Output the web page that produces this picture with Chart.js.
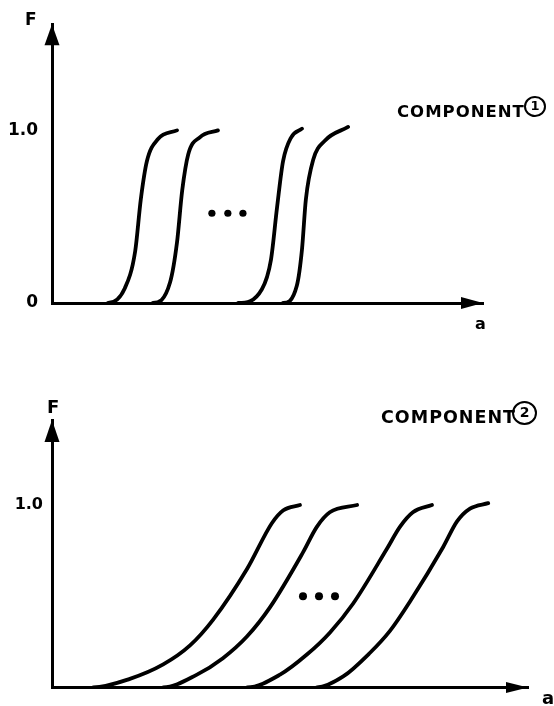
<!DOCTYPE html>
<html lang="en">
<head>
<meta charset="UTF-8">
<title>Component distributions F(a)</title>
<script src="https://cdn.jsdelivr.net/npm/chart.js"></script>
<style>
  * { box-sizing: border-box; }
  body { margin: 0; background: #fff; width: 554px; height: 706px; position: relative; overflow: hidden;
         font-family: 'DejaVu Sans', sans-serif; font-weight: bold; color: #000; }
  canvas { position: absolute; left: 0; }
  #chart1 { top: 0; }
  #chart2 { top: 360px; }
  .lbl { position: absolute; line-height: 1; white-space: nowrap; }
  .comp { letter-spacing: 1px; }
  .circ { position: absolute; border: 2.5px solid #000; border-radius: 50%; text-align: center; }
</style>
</head>
<body>
  <canvas id="chart1" width="554" height="340"></canvas>
  <canvas id="chart2" width="554" height="346"></canvas>

  <div class="lbl" style="left:25px;top:11px;font-size:17px">F</div>
  <div class="lbl" style="left:475px;top:316px;font-size:16px">a</div>
  <div class="lbl comp" style="left:397px;top:104px;font-size:16.5px">COMPONENT</div>
  <div class="circ" style="left:524px;top:96px;width:22px;height:21px;font-size:13px;line-height:16px">1</div>

  <div class="lbl" style="left:47px;top:398px;font-size:18px">F</div>
  <div class="lbl" style="left:542px;top:689px;font-size:18px">a</div>
  <div class="lbl comp" style="left:381px;top:409px;font-size:17.5px">COMPONENT</div>
  <div class="circ" style="left:512px;top:401px;width:25px;height:24px;font-size:14px;line-height:19px">2</div>

<script>
// component 1 (steep curves), a in axis units, F from 0 to 1
// the first point of each curve is a resting point on the axis (F = 0 before the rise)
const c1Curve1A = [0.90, 1.30, 1.69, 1.93, 2.06, 2.20, 2.46, 2.90];
const c1Curve1F = [0, 0, 0.086, 0.30, 0.60, 0.82, 0.95, 1.0];
const c1Curve2A = [1.94, 2.34, 2.74, 2.90, 3.02, 3.16, 3.43, 3.85];
const c1Curve2F = [0, 0, 0.12, 0.35, 0.65, 0.86, 0.96, 1.0];
const c1Curve3A = [3.92, 4.32, 4.87, 5.08, 5.22, 5.36, 5.55, 5.80];
const c1Curve3F = [0, 0, 0.08, 0.25, 0.55, 0.82, 0.96, 1.01];
const c1Curve4A = [4.96, 5.36, 5.68, 5.80, 5.89, 6.06, 6.33, 6.87];
const c1Curve4F = [0, 0, 0.10, 0.31, 0.60, 0.83, 0.94, 1.02];
const c1DotsA = [3.71, 4.08, 4.43];
const c1DotsF = [0.52, 0.52, 0.52];
const c1TickValues = [0, 1];
const c1TickLabels = ['0', '1.0'];

// component 2 (wide curves)
const c2Curve1A = [0.35, 0.95, 1.80, 2.57, 3.19, 3.72, 4.51, 5.08, 5.34, 5.73];
const c2Curve1F = [0, 0, 0.047, 0.126, 0.23, 0.37, 0.65, 0.90, 0.97, 1.0];
const c2Curve2A = [1.97, 2.57, 3.35, 3.95, 4.51, 5.04, 5.80, 6.12, 6.42, 7.05];
const c2Curve2F = [0, 0, 0.07, 0.16, 0.28, 0.44, 0.74, 0.88, 0.96, 1.0];
const c2Curve3A = [3.91, 4.51, 5.27, 5.89, 6.42, 6.96, 7.74, 8.04, 8.34, 8.78];
const c2Curve3F = [0, 0, 0.07, 0.18, 0.30, 0.46, 0.76, 0.88, 0.96, 1.0];
const c2Curve4A = [5.52, 6.12, 6.73, 7.35, 7.81, 8.27, 9.04, 9.36, 9.66, 10.08];
const c2Curve4F = [0, 0, 0.06, 0.19, 0.31, 0.47, 0.77, 0.91, 0.98, 1.01];
const c2DotsA = [5.80, 6.17, 6.54];
const c2DotsF = [0.50, 0.50, 0.50];
const c2TickValues = [1];
const c2TickLabels = ['1.0'];

function curve(a, f) {
  return {
    data: a.map((x, i) => ({ x: x, y: f[i] })),
    borderColor: '#000',
    borderWidth: 3.8,
    borderCapStyle: 'round',
    borderJoinStyle: 'round',
    pointRadius: 0,
    cubicInterpolationMode: 'monotone',
    // resting segment on the axis is not drawn, it only gives the curve a flat start
    segment: { borderColor: ctx => ctx.p0DataIndex === 0 ? 'rgba(0,0,0,0)' : '#000' },
    fill: false
  };
}

function dots(a, f, r) {
  return {
    data: a.map((x, i) => ({ x: x, y: f[i] })),
    showLine: false,
    pointRadius: r,
    pointBorderWidth: 0,
    pointBackgroundColor: '#000',
    borderColor: '#000'
  };
}

// arrow heads at the end of both axes
function arrowHeads(yLen, yHalf, xLen, xHalf) {
  return {
    id: 'arrowHeads',
    afterDraw(chart) {
      const { ctx, chartArea: { left, right, top, bottom } } = chart;
      ctx.save();
      ctx.fillStyle = '#000';
      ctx.beginPath();
      ctx.moveTo(left, top);
      ctx.lineTo(left - yHalf, top + yLen);
      ctx.lineTo(left + yHalf, top + yLen);
      ctx.closePath();
      ctx.fill();
      ctx.beginPath();
      ctx.moveTo(right, bottom);
      ctx.lineTo(right - xLen, bottom - xHalf);
      ctx.lineTo(right - xLen, bottom + xHalf);
      ctx.closePath();
      ctx.fill();
      ctx.restore();
    }
  };
}

function makeChart(id, datasets, xMax, yMax, tickValues, tickLabels, padding, tickSize, tickPad, arrows) {
  return new Chart(document.getElementById(id), {
    type: 'line',
    data: { datasets: datasets },
    options: {
      responsive: false,
      animation: false,
      layout: { padding: padding },
      plugins: { legend: { display: false }, tooltip: { enabled: false } },
      scales: {
        x: {
          type: 'linear', min: 0, max: xMax,
          ticks: { display: false },
          grid: { display: false, drawTicks: false },
          border: { display: true, color: '#000', width: 3 },
          afterFit(s) { s.height = 0; }
        },
        y: {
          type: 'linear', min: 0, max: yMax,
          grid: { display: false, drawTicks: false },
          border: { display: true, color: '#000', width: 3 },
          afterBuildTicks(s) { s.ticks = tickValues.map(v => ({ value: v })); },
          ticks: {
            color: '#000',
            padding: tickPad,
            font: { family: 'DejaVu Sans', weight: 'bold', size: tickSize },
            callback: v => tickLabels[tickValues.indexOf(v)]
          },
          afterFit(s) { s.width = 52; }
        }
      }
    },
    plugins: [arrows]
  });
}

makeChart('chart1', [
  curve(c1Curve1A, c1Curve1F),
  curve(c1Curve2A, c1Curve2F),
  curve(c1Curve3A, c1Curve3F),
  curve(c1Curve4A, c1Curve4F),
  dots(c1DotsA, c1DotsF, 3.6)
], 10, 1.615, c1TickValues, c1TickLabels,
  { left: 0, right: 71, top: 22, bottom: 37 }, 17, 14, arrowHeads(21, 7.5, 22, 6));

makeChart('chart2', [
  curve(c2Curve1A, c2Curve1F),
  curve(c2Curve2A, c2Curve2F),
  curve(c2Curve3A, c2Curve3F),
  curve(c2Curve4A, c2Curve4F),
  dots(c2DotsA, c2DotsF, 4)
], 11, 1.466, c2TickValues, c2TickLabels,
  { left: 0, right: 26, top: 60, bottom: 5 }, 16, 9, arrowHeads(22, 7.5, 22, 5.5));
</script>
</body>
</html>
